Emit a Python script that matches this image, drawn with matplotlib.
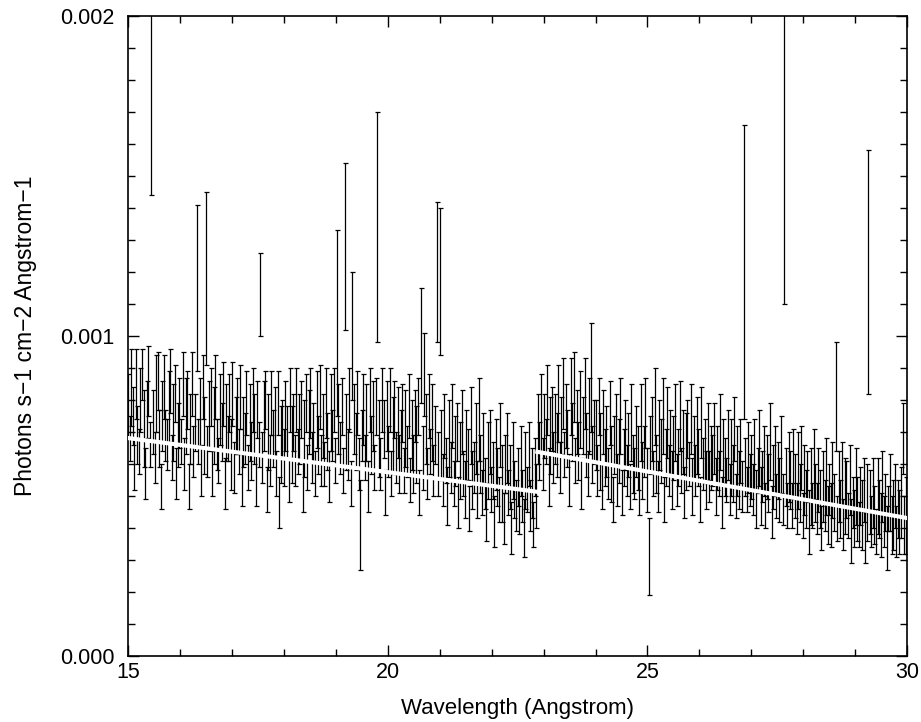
import numpy as np
import matplotlib
matplotlib.use("Agg")
import matplotlib.pyplot as plt
from matplotlib.ticker import MultipleLocator, FormatStrFormatter

plt.rcParams['font.family'] = ['Liberation Sans', 'DejaVu Sans']

# binned spectrum, flux and 1-sigma errors in units of 1e-5 photons/s/cm2/A
# bins start at 15.00 A and are 0.03 A wide
flux = [
    78, 68, 84, 75, 60, 85, 69, 64, 80, 88, 71, 57, 77, 86, 66, 222, 73, 62, 82, 86, 68, 53, 75, 84, 69,
    66, 78, 86, 62, 73, 82, 57, 69, 76, 67, 85, 60, 75, 80, 53, 71, 85, 64, 73, 115, 67, 76, 58, 84, 69,
    118, 64, 75, 81, 57, 72, 84, 66, 61, 77, 70, 82, 54, 73, 68, 79, 63, 82, 59, 72, 75, 64, 81, 55, 70,
    68, 79, 59, 73, 64, 80, 71, 55, 77, 66, 113, 62, 75, 80, 52, 70, 61, 79, 68, 73, 57, 79, 48, 66, 71,
    62, 75, 70, 55, 80, 66, 73, 61, 80, 64, 71, 77, 53, 68, 79, 59, 73, 79, 62, 70, 57, 77, 66, 81, 61,
    72, 60, 79, 67, 56, 76, 69, 80, 61, 104, 74, 65, 78, 58, 128, 70, 63, 80, 54, 100, 74, 67, 79, 60, 41,
    69, 77, 62, 73, 53, 80, 66, 75, 59, 78, 134, 68, 60, 80, 71, 51, 75, 64, 80, 57, 69, 77, 62, 73, 60,
    67, 76, 58, 71, 64, 78, 55, 69, 60, 75, 66, 78, 51, 97, 62, 88, 71, 57, 78, 64, 73, 58, 69, 120, 60,
    117, 66, 55, 72, 61, 50, 68, 59, 75, 54, 64, 70, 48, 61, 73, 57, 52, 66, 63, 46, 72, 55, 59, 68, 52,
    74, 60, 51, 65, 54, 45, 61, 67, 52, 58, 42, 63, 56, 49, 69, 54, 43, 60, 65, 51, 56, 40, 61, 52, 47,
    56, 45, 61, 50, 40, 58, 52, 63, 47, 54, 41, 59, 50, 71, 64, 76, 60, 72, 67, 80, 56, 69, 74, 62, 71,
    66, 79, 59, 72, 82, 63, 75, 68, 55, 81, 70, 84, 61, 73, 64, 77, 54, 72, 82, 66, 57, 75, 87, 63, 70,
    69, 58, 78, 64, 53, 73, 62, 67, 57, 76, 60, 49, 66, 71, 55, 64, 75, 51, 62, 69, 58, 66, 53, 73, 60,
    57, 67, 62, 51, 73, 58, 64, 76, 55, 31, 66, 71, 57, 78, 60, 53, 69, 64, 75, 49, 62, 73, 58, 67, 55,
    65, 73, 55, 62, 75, 58, 67, 51, 64, 71, 60, 74, 53, 65, 58, 69, 62, 49, 73, 60, 64, 55, 67, 56, 62,
    61, 68, 53, 62, 57, 70, 48, 64, 59, 55, 66, 52, 62, 57, 71, 50, 61, 55, 64, 53, 120, 59, 52, 62, 55,
    59, 52, 63, 49, 58, 65, 50, 56, 61, 47, 59, 54, 67, 45, 56, 61, 50, 58, 52, 63, 49, 205, 56, 47, 59,
    55, 47, 60, 53, 46, 58, 51, 62, 44, 55, 49, 56, 42, 53, 47, 60, 51, 46, 55, 49, 40, 53, 47, 56, 44,
    52, 44, 55, 48, 81, 43, 53, 46, 57, 41, 50, 52, 44, 55, 39, 48, 43, 53, 46, 41, 50, 44, 52, 37, 48,
    120, 48, 42, 51, 44, 39, 50, 46, 41, 53, 42, 48, 37, 46, 51, 41, 44, 50, 39, 46, 42, 48, 68, 41, 44,
]
err = [
    10, 7, 12, 9, 8, 11, 9, 7, 10, 8, 12, 8, 9, 11, 7, 78, 10, 8, 12, 9, 9, 7, 11, 10, 8,
    8, 11, 10, 7, 12, 9, 8, 10, 11, 7, 10, 8, 12, 9, 7, 11, 10, 8, 9, 26, 7, 11, 8, 10, 12,
    27, 8, 11, 9, 7, 12, 10, 8, 7, 11, 9, 10, 8, 12, 7, 9, 11, 10, 8, 9, 12, 7, 10, 8, 11,
    8, 10, 7, 12, 9, 10, 11, 8, 9, 7, 13, 8, 11, 9, 7, 12, 8, 10, 9, 11, 7, 10, 8, 12, 9,
    9, 11, 8, 7, 10, 12, 9, 8, 10, 7, 11, 9, 8, 12, 9, 7, 10, 11, 8, 9, 7, 12, 9, 10, 8,
    10, 7, 11, 9, 8, 12, 8, 10, 7, 29, 11, 8, 9, 7, 26, 12, 8, 10, 7, 20, 11, 9, 10, 8, 14,
    8, 11, 7, 12, 8, 10, 9, 11, 7, 9, 36, 12, 8, 10, 9, 7, 11, 8, 10, 7, 12, 9, 8, 11, 9,
    10, 9, 7, 12, 8, 10, 7, 11, 9, 8, 12, 9, 7, 18, 10, 13, 11, 8, 10, 7, 12, 8, 9, 22, 10,
    23, 11, 8, 10, 7, 9, 12, 8, 10, 7, 11, 9, 8, 12, 10, 7, 9, 11, 8, 7, 12, 9, 8, 11, 9,
    13, 9, 7, 11, 8, 9, 12, 10, 7, 9, 8, 11, 9, 7, 10, 12, 8, 9, 11, 7, 10, 8, 12, 9, 8,
    9, 7, 11, 8, 9, 12, 7, 10, 8, 11, 7, 9, 10, 11, 9, 12, 8, 10, 7, 11, 9, 12, 10, 8, 11,
    10, 12, 8, 9, 11, 7, 10, 9, 8, 12, 9, 11, 7, 10, 9, 12, 8, 9, 11, 10, 7, 12, 17, 9, 10,
    11, 8, 9, 12, 7, 10, 9, 11, 8, 10, 12, 7, 9, 11, 8, 10, 12, 7, 9, 11, 8, 10, 7, 12, 9,
    8, 11, 10, 7, 12, 9, 8, 11, 10, 12, 9, 10, 7, 12, 9, 8, 11, 10, 12, 7, 9, 11, 8, 10, 9,
    10, 12, 8, 9, 11, 7, 10, 8, 12, 9, 7, 11, 9, 10, 8, 12, 9, 7, 11, 8, 10, 9, 12, 8, 10,
    8, 11, 9, 10, 7, 12, 8, 10, 9, 7, 11, 8, 12, 9, 10, 7, 11, 9, 10, 8, 46, 9, 7, 11, 8,
    10, 8, 11, 9, 7, 12, 9, 8, 11, 7, 10, 9, 12, 8, 10, 11, 7, 9, 10, 12, 8, 95, 9, 7, 11,
    9, 7, 11, 10, 8, 12, 9, 10, 7, 11, 9, 8, 10, 12, 7, 11, 9, 8, 10, 9, 7, 11, 8, 12, 9,
    8, 10, 12, 9, 17, 7, 11, 9, 10, 8, 12, 9, 7, 11, 10, 8, 9, 12, 10, 7, 9, 11, 10, 8, 12,
    38, 10, 8, 11, 9, 7, 12, 9, 10, 11, 8, 9, 10, 7, 12, 9, 11, 10, 8, 9, 10, 11, 11, 9, 12,
]
bin_start = 15.0
bin_width = 0.03

# continuum model, two pieces (photons/s/cm2/A)
model1_x = [15.0, 22.88]
model1_y = [6.81e-4, 5.13e-4]
model2_x = [22.88, 30.0]
model2_y = [6.38e-4, 4.31e-4]

flux = np.array(flux) * 1e-5
err = np.array(err) * 1e-5
wave = bin_start + bin_width * np.arange(len(flux))

fig = plt.figure(figsize=(9.21, 7.22), dpi=100)
ax = fig.add_axes([0.139, 0.0914, 0.846, 0.8866])

ax.errorbar(wave, flux, yerr=err, fmt='none', ecolor='black', elinewidth=0.9,
            capsize=1.8, capthick=0.9, zorder=2)
ax.plot(model1_x, model1_y, color='white', lw=3, zorder=3)
ax.plot(model2_x, model2_y, color='white', lw=3, zorder=3)

ax.set_xlim(15, 30)
ax.set_ylim(0, 0.002)
ax.xaxis.set_major_locator(MultipleLocator(5))
ax.xaxis.set_minor_locator(MultipleLocator(1))
ax.yaxis.set_major_locator(MultipleLocator(0.001))
ax.yaxis.set_minor_locator(MultipleLocator(0.0001))
ax.yaxis.set_major_formatter(FormatStrFormatter('%.3f'))
ax.tick_params(which='both', direction='in', top=True, right=True, labelsize=15.5, width=1)
ax.tick_params(which='major', length=8)
ax.tick_params(axis='y', which='major', pad=10)
ax.tick_params(axis='x', which='major', pad=4)
ax.tick_params(which='minor', length=5)
for s in ax.spines.values():
    s.set_linewidth(1.2)

ax.set_xlabel('Wavelength (Angstrom)', fontsize=16, labelpad=11)
ax.set_ylabel('Photons s\u22121 cm\u22122 Angstrom\u22121', fontsize=16.5, labelpad=16)

fig.savefig('out.png', dpi=100)
